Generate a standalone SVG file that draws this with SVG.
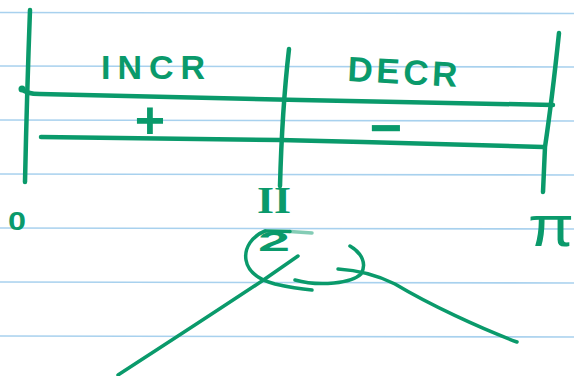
<svg xmlns="http://www.w3.org/2000/svg" width="574" height="376" viewBox="0 0 574 376">
<style>
.rule{stroke:#a8d1ee;stroke-width:1.6;fill:none}
.pen{stroke:#0a9a6b;stroke-width:4.5;fill:none;stroke-linecap:round;stroke-linejoin:round}
.thin{stroke:#0a9a6b;stroke-width:3.5;fill:none;stroke-linecap:round;stroke-linejoin:round}
.lbl{fill:#0a9a6b;font-family:"Liberation Sans",Arial,sans-serif;font-weight:bold}
</style>
<rect width="574" height="376" fill="#ffffff"/>
<g id="paper">
<path class="rule" d="M0,12.5 L574,13.5"/>
<path class="rule" d="M0,66 L574,67"/>
<path class="rule" d="M0,120 L574,121"/>
<path class="rule" d="M0,174 L574,175"/>
<path class="rule" d="M0,228 L574,229"/>
<path class="rule" d="M0,282 L574,283"/>
<path class="rule" d="M0,336 L574,337"/>
</g>
<g id="connectors">
<path class="pen" d="M30,10 Q27,90 25,182"/>
<path class="pen" d="M289,49 Q282,110 280,186"/>
<path class="pen" d="M559,33 Q552,100 545,147 L543,192"/>
<circle cx="22" cy="89" r="3.5" fill="#0a9a6b"/>
<path class="pen" d="M22,89 Q26,94 40,94 L300,100 L553,105"/>
<path class="pen" d="M41,137 L280,140 L363,142 L543,147"/>
<path class="thin" d="M265,231 C252,236 244,248 246,260 C248,272 260,280 275,284 C288,287 300,289 312,290"/>
<path class="thin" d="M266,231 L290,231.5"/>
<path class="thin" d="M290,231.5 L312,233" opacity="0.5"/>
<path class="thin" d="M350,246 C362,253 367,264 361,274 C352,283 320,287 295,280"/>
<path class="thin" d="M338,269 C355,270 375,274 395,284 C430,305 480,328 517,342"/>
<path class="thin" d="M298,256 L262,281 Q200,322 118,375"/>
</g>
<g id="incr"><text class="lbl" x="101" y="79" font-size="34" textLength="104" lengthAdjust="spacing">INCR</text></g>
<g id="decr"><text class="lbl" x="347" y="81" font-size="35" textLength="110" lengthAdjust="spacing" transform="rotate(3 347 81)">DECR</text></g>
<g id="plus"><text class="lbl" x="150" y="138" font-size="52" text-anchor="middle">+</text></g>
<g id="minus"><text class="lbl" x="386" y="147" font-size="56" text-anchor="middle">−</text></g>
<g id="zero"><text class="lbl" x="8" y="230" font-size="26" textLength="18" lengthAdjust="spacingAndGlyphs">0</text></g>
<g id="halfpi">
<text x="257" y="213" font-size="38" fill="#0a9a6b" font-family="'Liberation Serif',serif" font-weight="bold" textLength="34" lengthAdjust="spacingAndGlyphs">II</text>
<text class="lbl" x="258" y="251" font-size="28" textLength="32" lengthAdjust="spacingAndGlyphs">2</text>
</g>
<g id="pi"><text x="528" y="246" font-size="58" fill="#0a9a6b" font-family="'Liberation Sans',sans-serif" textLength="46" lengthAdjust="spacingAndGlyphs">π</text></g>
</svg>
